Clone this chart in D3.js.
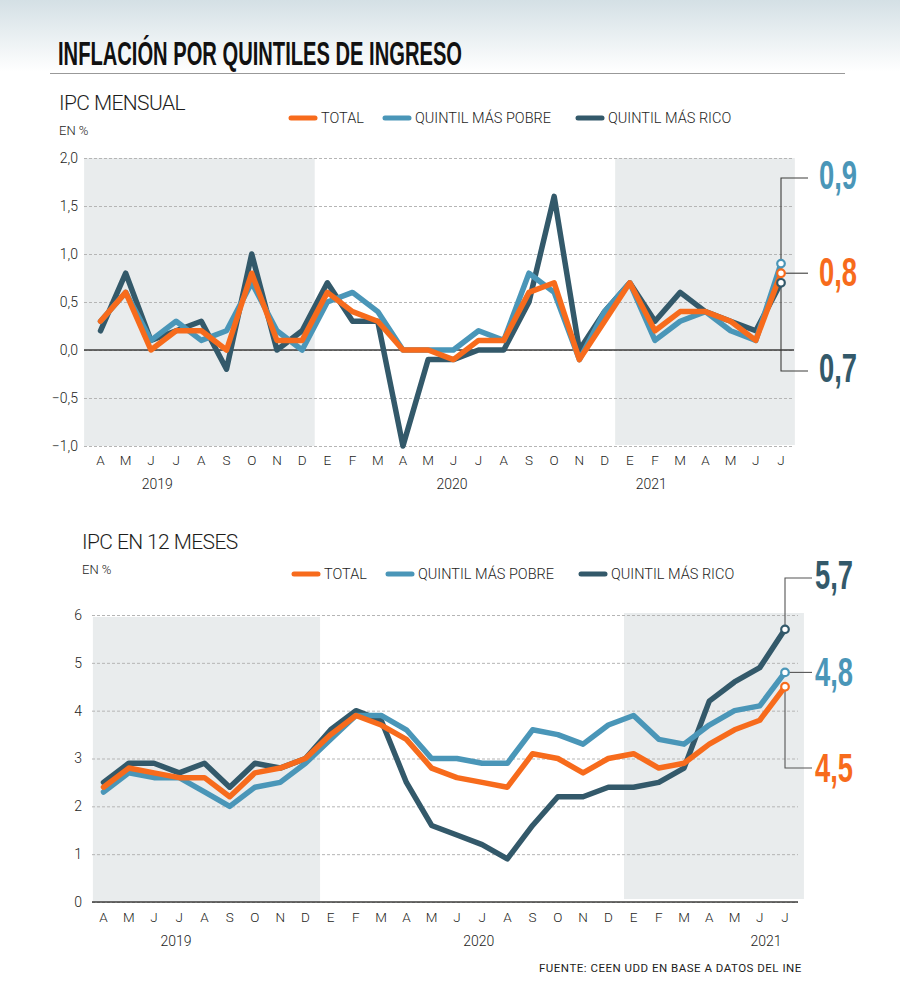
<!DOCTYPE html>
<html>
<head>
<meta charset="utf-8">
<script src="https://cdn.jsdelivr.net/npm/d3@7"></script>
<style>
  html, body { margin: 0; padding: 0; background: #fff; }
  svg { display: block; }
  text { font-family: Roboto, sans-serif; font-weight: 300; fill: #1d1d1b; }
  .heavy { font-family: "Liberation Sans Narrow", sans-serif; font-weight: 700; }
  .tick line.grid { stroke: #b5b5b5; stroke-dasharray: 3 2; }
  .tick text { font-size: 14px; }
</style>
</head>
<body>
<svg id="chart" width="900" height="1000"></svg>
<script>
var months = ["A","M","J","J","A","S","O","N","D","E","F","M","A","M","J","J","A","S","O","N","D","E","F","M","A","M","J","J"];
var seriesNames = ["TOTAL", "QUINTIL MÁS POBRE", "QUINTIL MÁS RICO"];

var monthlyTotal = [0.3,0.6,0,0.2,0.2,0,0.8,0.1,0.1,0.6,0.4,0.3,0,0,-0.1,0.1,0.1,0.6,0.7,-0.1,0.3,0.7,0.2,0.4,0.4,0.3,0.1,0.8];
var monthlyPoor = [0.3,0.6,0.1,0.3,0.1,0.2,0.7,0.2,0,0.5,0.6,0.4,0,0,0,0.2,0.1,0.8,0.6,-0.1,0.4,0.7,0.1,0.3,0.4,0.2,0.1,0.9];
var monthlyRich = [0.2,0.8,0.1,0.2,0.3,-0.2,1,0,0.2,0.7,0.3,0.3,-1,-0.1,-0.1,0,0,0.5,1.6,0,0.4,0.7,0.3,0.6,0.4,0.3,0.2,0.7];

var yearlyTotal = [2.4,2.8,2.7,2.6,2.6,2.2,2.7,2.8,3,3.5,3.9,3.7,3.4,2.8,2.6,2.5,2.4,3.1,3,2.7,3,3.1,2.8,2.9,3.3,3.6,3.8,4.5];
var yearlyPoor = [2.3,2.7,2.6,2.6,2.3,2,2.4,2.5,2.9,3.4,3.9,3.9,3.6,3,3,2.9,2.9,3.6,3.5,3.3,3.7,3.9,3.4,3.3,3.7,4,4.1,4.8];
var yearlyRich = [2.5,2.9,2.9,2.7,2.9,2.4,2.9,2.8,3,3.6,4,3.8,2.5,1.6,1.4,1.2,0.9,1.6,2.2,2.2,2.4,2.4,2.5,2.8,4.2,4.6,4.9,5.7];

var monthlyTicks = [-1,-0.5,0,0.5,1,1.5,2];
var yearlyTicks = [0,1,2,3,4,5,6];

var ORANGE = "#f76b1c", BLUE = "#4a96b8", DARK = "#33596a";

var svg = d3.select("#chart");
var comma = function (d) { return d3.format(".1f")(d).replace(".", ","); };

// header
var defs = svg.append("defs");
var grad = defs.append("linearGradient").attr("id", "top").attr("x1", 0).attr("x2", 0).attr("y1", 0).attr("y2", 1);
grad.append("stop").attr("offset", 0).attr("stop-color", "#d4e0e5");
grad.append("stop").attr("offset", 1).attr("stop-color", "#ffffff");
svg.append("rect").attr("width", 900).attr("height", 72).attr("fill", "url(#top)");
svg.append("line").attr("x1", 50).attr("x2", 845).attr("y1", 73.5).attr("y2", 73.5).attr("stroke", "#999").attr("stroke-width", 1.2);
svg.append("text").attr("class", "heavy").attr("x", 58).attr("y", 65)
  .attr("font-size", 33).attr("textLength", 404).attr("lengthAdjust", "spacingAndGlyphs")
  .style("fill", "#111").text("INFLACIÓN POR QUINTILES DE INGRESO");

function drawPanel(p) {
  var g = svg.append("g");
  var x = d3.scaleLinear().domain([0, months.length - 1]).range(p.xRange);
  var y = d3.scaleLinear().domain(p.yDomain).range(p.yRange);

  // shaded years
  p.bands.forEach(function (b) {
    g.append("rect").attr("x", x(b[0])).attr("width", x(b[1]) - x(b[0]))
      .attr("y", b[2]).attr("height", b[3] - b[2]).attr("fill", "#e9eced");
  });

  // y axis with dashed grid
  var axis = g.append("g").attr("transform", "translate(" + p.gridLeft + ",0)")
    .call(d3.axisLeft(y).tickValues(p.ticks).tickSize(0).tickPadding(p.tickPad).tickFormat(p.fmt));
  axis.select(".domain").remove();
  axis.selectAll(".tick text").style("font-family", "Roboto").style("font-weight", 300).attr("fill", "#1d1d1b");
  axis.selectAll(".tick").append("line").attr("class", "grid").attr("x2", p.gridRight - p.gridLeft);

  // baseline
  g.append("line").attr("x1", p.gridLeft).attr("x2", p.gridRight).attr("y1", y(p.base)).attr("y2", y(p.base))
    .attr("stroke", "#3c3c3b").attr("stroke-width", 1.3);

  // month + year labels
  g.selectAll("text.month").data(months).join("text").attr("class", "month")
    .attr("x", function (d, i) { return x(i); }).attr("y", p.monthY)
    .attr("text-anchor", "middle").attr("font-size", 13.5).text(function (d) { return d; });
  p.years.forEach(function (yr) {
    g.append("text").attr("x", x(yr[1])).attr("y", p.monthY + 24).attr("text-anchor", "middle")
      .attr("font-size", 14).text(yr[0]);
  });

  // titles
  g.append("text").attr("x", p.titleX).attr("y", p.titleY).attr("font-size", 21).attr("letter-spacing", -0.6).text(p.title);
  g.append("text").attr("x", p.titleX).attr("y", p.titleY + 25).attr("font-size", 13).text("EN %");

  // legend
  var colors = [ORANGE, BLUE, DARK];
  seriesNames.forEach(function (name, i) {
    var lx = p.legendX[i];
    g.append("line").attr("x1", lx).attr("x2", lx + 24).attr("y1", p.legendY).attr("y2", p.legendY)
      .attr("stroke", colors[i]).attr("stroke-width", 5).attr("stroke-linecap", "round");
    g.append("text").attr("x", lx + 30).attr("y", p.legendY + 5).attr("font-size", 14.5).text(name);
  });

  // leader lines go under the series
  var lastI = months.length - 1, lastX = x(lastI);
  p.leaders.forEach(function (l) {
    var yEnd = l.straight ? y(l.from) : l.y;
    var path = d3.path();
    path.moveTo(lastX, y(l.from));
    if (!l.straight) path.lineTo(lastX, yEnd);
    path.lineTo(lastX + 27, yEnd);
    g.append("path").attr("d", path.toString()).attr("fill", "none").attr("stroke", p.leaderColor).attr("stroke-width", 1.1);
  });

  // series
  var line = d3.line().x(function (d, i) { return x(i); }).y(function (d) { return y(d); });
  p.series.forEach(function (s) {
    g.append("path").attr("d", line(s.values)).attr("fill", "none").attr("stroke", s.color)
      .attr("stroke-width", 5.5).attr("stroke-linejoin", "round").attr("stroke-linecap", "round");
  });
  p.series.forEach(function (s) {
    g.append("circle").attr("cx", lastX).attr("cy", y(s.values[lastI])).attr("r", 3.8)
      .attr("fill", "#fff").attr("stroke", s.color).attr("stroke-width", 2.2);
  });

  // big end values
  p.labels.forEach(function (l) {
    g.append("text").attr("class", "heavy").attr("x", p.labelX).attr("y", l.y)
      .attr("font-size", 40).attr("textLength", 38).attr("lengthAdjust", "spacingAndGlyphs")
      .style("fill", l.color).text(l.text);
  });
}

drawPanel({
  title: "IPC MENSUAL", titleX: 59, titleY: 110,
  xRange: [100.5, 781], yDomain: [-1, 2], yRange: [446, 158],
  ticks: monthlyTicks, fmt: comma, base: 0, tickPad: 6,
  gridLeft: 84, gridRight: 794,
  bands: [[-0.65, 8.5, 158, 446], [20.42, 27.55, 158, 445]],
  monthY: 465, years: [["2019", 2.25], ["2020", 13.95], ["2021", 21.85]],
  legendX: [291, 385, 578], legendY: 118,
  series: [{ values: monthlyRich, color: DARK }, { values: monthlyPoor, color: BLUE }, { values: monthlyTotal, color: ORANGE }],
  leaderColor: "#3c3c3b",
  leaders: [{ from: 0.9, y: 178 }, { from: 0.8, straight: true }, { from: 0.7, y: 371 }],
  labelX: 819,
  labels: [{ text: "0,9", y: 189, color: BLUE }, { text: "0,8", y: 286, color: ORANGE }, { text: "0,7", y: 382, color: DARK }]
});

drawPanel({
  title: "IPC EN 12 MESES", titleX: 82, titleY: 549,
  xRange: [103.5, 785], yDomain: [0, 6], yRange: [902, 615],
  ticks: yearlyTicks, fmt: d3.format("d"), base: 0, tickPad: 10,
  gridLeft: 92, gridRight: 798,
  bands: [[-0.42, 8.58, 617, 902], [20.62, 27.75, 613, 899]],
  monthY: 922, years: [["2019", 2.87], ["2020", 14.87], ["2021", 26.25]],
  legendX: [294, 388, 581], legendY: 574,
  series: [{ values: yearlyRich, color: DARK }, { values: yearlyPoor, color: BLUE }, { values: yearlyTotal, color: ORANGE }],
  leaderColor: "#555",
  leaders: [{ from: 5.7, y: 578 }, { from: 4.8, straight: true }, { from: 4.5, y: 768 }],
  labelX: 815,
  labels: [{ text: "5,7", y: 589, color: DARK }, { text: "4,8", y: 686, color: BLUE }, { text: "4,5", y: 782, color: ORANGE }]
});

svg.append("text").attr("x", 539).attr("y", 972).attr("font-size", 11.5).attr("letter-spacing", 0.5)
  .attr("fill", "#333").style("font-weight", 400).text("FUENTE: CEEN UDD EN BASE A DATOS DEL INE");
</script>
</body>
</html>
